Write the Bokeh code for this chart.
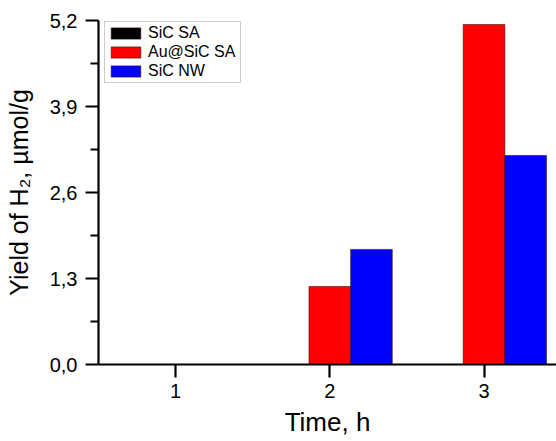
from bokeh.plotting import figure
from bokeh.models import FixedTicker, CustomJSTickFormatter, Legend, LegendItem, Range1d
from bokeh.embed import file_html
from bokeh.resources import INLINE

time_h = [1, 2, 3]
sic_sa = [0.0, 0.0, 0.0]
au_sic_sa = [0.0, 1.18, 5.14]
sic_nw = [0.0, 1.74, 3.16]
series_names = ["SiC SA", "Au@SiC SA", "SiC NW"]
series_colors = ["#000000", "#ff0000", "#0000ff"]
y_ticks = [0.0, 1.3, 2.6, 3.9, 5.2]
y_minor = [0.65, 1.95, 3.25, 4.55]

FONT = "Liberation Sans"

p = figure(width=556, height=441, output_backend="svg", toolbar_location=None,
           x_range=Range1d(0.5, 3.47), y_range=Range1d(0, 5.2),
           min_border_left=98, min_border_right=0, min_border_top=20, min_border_bottom=77)
p.outline_line_color = None
p.xgrid.visible = False
p.ygrid.visible = False
p.background_fill_color = "white"
p.border_fill_color = "white"

bw = 0.27
offsets = [-bw, 0.0, bw]
renderers = []
for vals, off, col in zip([sic_sa, au_sic_sa, sic_nw], offsets, series_colors):
    xs = [t + off for t in time_h]
    r = p.vbar(x=xs, top=vals, bottom=0, width=bw, fill_color=col,
               line_color="#3a0000", line_width=0.8, line_alpha=0.7)
    renderers.append(r)

legend = Legend(items=[LegendItem(label=n, renderers=[r]) for n, r in zip(series_names, renderers)])
legend.location = (6, 281)
legend.glyph_width = 37
legend.glyph_height = 14
legend.label_height = 14
legend.label_width = 90
legend.spacing = 1
legend.padding = 2
legend.label_standoff = 4
legend.label_text_font = FONT
legend.label_text_font_size = "16px"
legend.label_text_color = "black"
legend.border_line_color = "#9a9a9a"
legend.border_line_width = 1.5
legend.background_fill_color = "white"
legend.background_fill_alpha = 1
p.add_layout(legend, "center")

for ax in (p.xaxis[0], p.yaxis[0]):
    ax.axis_line_width = 2.2
    ax.major_tick_line_width = 2.2
    ax.minor_tick_line_width = 2.2
    ax.major_tick_in = 0
    ax.major_tick_out = 13
    ax.minor_tick_in = 0
    ax.minor_tick_out = 8
    ax.major_label_text_font = FONT
    ax.major_label_text_font_size = "20px"
    ax.major_label_text_color = "black"
    ax.axis_label_text_font = FONT
    ax.axis_label_text_font_style = "normal"
    ax.axis_label_text_color = "black"

p.xaxis.axis_label_text_font_size = "26px"
p.yaxis.axis_label_text_font_size = "25px"
p.xaxis.ticker = FixedTicker(ticks=time_h, minor_ticks=[])
p.yaxis.ticker = FixedTicker(ticks=y_ticks, minor_ticks=y_minor)
p.yaxis.formatter = CustomJSTickFormatter(code="return tick.toFixed(1).replace('.', ',');")
p.xaxis.major_label_standoff = 6
p.yaxis.major_label_standoff = 8
p.xaxis.axis_label = "Time, h"
p.yaxis.axis_label = "Yield of H\u2082, \u00b5mol/g"
p.xaxis.axis_label_standoff = 6
p.yaxis.axis_label_standoff = 14

open("out.html", "w").write(file_html(p, INLINE))
